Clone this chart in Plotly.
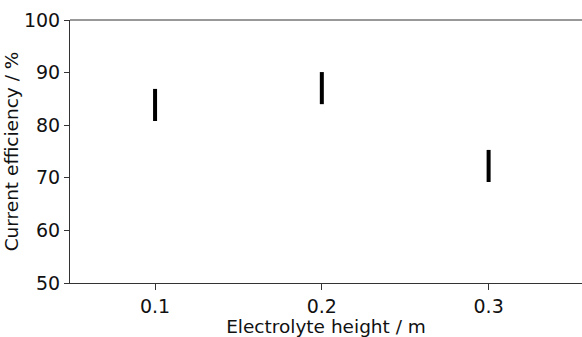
import plotly.graph_objects as go

heights = [0.1, 0.2, 0.3]
eff_low = [80.8, 84.0, 69.2]
eff_high = [86.9, 90.1, 75.3]
x_ticks = [0.1, 0.2, 0.3]
y_ticks = [50, 60, 70, 80, 90, 100]

xs, ys = [], []
for h, lo, hi in zip(heights, eff_low, eff_high):
    xs += [h, h, None]
    ys += [lo, hi, None]

fig = go.Figure()
fig.add_trace(go.Scatter(x=xs, y=ys, mode="lines",
                         line=dict(color="black", width=4), showlegend=False,
                         hoverinfo="skip"))

tick_font = dict(family="DejaVu Sans, Arial, sans-serif", size=19, color="#111")
title_font = dict(family="DejaVu Sans, Arial, sans-serif", size=18.5, color="#111")
fig.update_layout(
    width=582, height=337,
    margin=dict(l=70, r=0, t=20, b=54),
    plot_bgcolor="white", paper_bgcolor="white",
    font=tick_font,
    xaxis=dict(range=[0.049, 0.356], tickvals=x_ticks, ticktext=["0.1", "0.2", "0.3"],
               showgrid=False, zeroline=False, showline=True, linecolor="#333",
               linewidth=1, ticks="outside", ticklen=6, tickcolor="#333",
               tickfont=tick_font,
               title=dict(text="Electrolyte height / m", standoff=3, font=title_font)),
    yaxis=dict(range=[50, 100], tickvals=y_ticks, showgrid=False, zeroline=False,
               showline=True, linecolor="#333", linewidth=1, ticks="outside",
               ticklen=5, tickcolor="#333", tickfont=tick_font,
               title=dict(text="Current efficiency / %", standoff=0, font=title_font)),
    shapes=[dict(type="line", xref="paper", yref="paper", x0=0, x1=1, y0=1, y1=1,
                 line=dict(color="#333", width=1))],
)
fig.write_html("out.html")
